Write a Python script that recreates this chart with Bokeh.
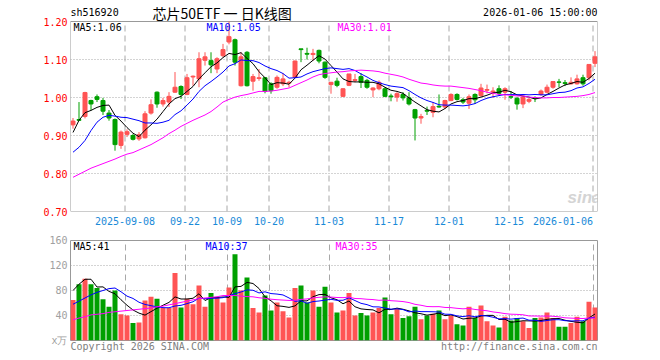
from bokeh.plotting import figure
from bokeh.models import (ColumnDataSource, FixedTicker, Label, Grid, Range1d, PrintfTickFormatter,
                          LinearAxis, CustomJSTickFormatter)
from bokeh.layouts import column
from bokeh.embed import file_html
from bokeh.resources import INLINE

# ---------------- data ----------------
tick_idx = [9, 19, 26, 33, 43, 53, 63, 73, 87]
tick_labels = ["2025-09-08", "09-22", "10-09", "10-20", "11-03", "11-17", "12-01", "12-15", "2026-01-06"]

open_ = [0.928, 0.942, 0.950, 0.992, 1.002, 0.992, 0.959, 0.942, 0.874, 0.903,
         0.900, 0.891, 0.894, 0.959, 1.014, 0.983, 0.988, 1.014, 1.029, 1.008,
         1.054, 1.049, 1.098, 1.097, 1.075, 1.110, 1.146, 1.152, 1.031, 1.119,
         1.043, 1.050, 1.052, 1.036, 1.027, 1.036, 1.038, 1.053, 1.128, 1.116,
         1.113, 1.124, 1.093, 1.034, 1.043, 1.003, 1.032, 1.045, 1.055, 1.045,
         1.020, 1.023, 1.023, 1.004, 1.001, 1.008, 0.999, 0.968, 0.946, 0.966,
         0.961, 0.977, 0.975, 0.992, 1.008, 0.994, 0.985, 1.008, 1.005, 1.019,
         1.014, 1.023, 1.014, 1.002, 0.998, 0.983, 0.990, 1.000, 1.008, 1.014,
         1.027, 1.041, 1.039, 1.036, 1.036, 1.052, 1.052, 1.090]
high = [0.946, 0.988, 1.015, 0.994, 1.008, 0.999, 0.967, 0.945, 0.913, 0.916,
        0.904, 0.909, 0.964, 0.995, 1.016, 0.999, 1.014, 1.067, 1.032, 1.062,
        1.058, 1.119, 1.119, 1.119, 1.106, 1.141, 1.200, 1.155, 1.119, 1.122,
        1.062, 1.075, 1.054, 1.040, 1.058, 1.064, 1.044, 1.097, 1.128, 1.131,
        1.128, 1.126, 1.095, 1.041, 1.052, 1.025, 1.062, 1.062, 1.064, 1.049,
        1.027, 1.045, 1.027, 1.010, 1.014, 1.014, 1.014, 0.970, 0.957, 0.976,
        0.988, 1.008, 0.994, 1.011, 1.011, 0.999, 1.008, 1.011, 1.036, 1.034,
        1.027, 1.032, 1.027, 1.017, 1.001, 1.003, 0.999, 1.003, 1.021, 1.034,
        1.042, 1.049, 1.046, 1.053, 1.060, 1.060, 1.087, 1.122]
low = [0.918, 0.938, 0.945, 0.966, 0.988, 0.954, 0.939, 0.860, 0.865, 0.896,
       0.887, 0.886, 0.892, 0.955, 0.973, 0.976, 0.975, 1.012, 0.996, 1.006,
       1.031, 1.027, 1.084, 1.064, 1.064, 1.106, 1.140, 1.084, 1.029, 1.029,
       1.018, 1.044, 1.011, 1.010, 1.023, 1.030, 1.027, 1.052, 1.093, 1.100,
       1.097, 1.090, 1.049, 1.010, 1.027, 1.001, 1.030, 1.040, 1.025, 1.023,
       1.001, 1.019, 1.001, 0.990, 0.989, 0.992, 0.979, 0.887, 0.931, 0.954,
       0.948, 0.973, 0.970, 0.990, 0.992, 0.983, 0.970, 0.983, 1.002, 1.011,
       0.999, 1.005, 0.994, 0.996, 0.968, 0.972, 0.985, 0.988, 1.005, 1.011,
       1.023, 1.027, 1.030, 1.034, 1.034, 1.031, 1.045, 1.080]
close = [0.938, 0.940, 1.013, 0.983, 0.995, 0.964, 0.946, 0.876, 0.909, 0.910,
         0.890, 0.902, 0.957, 0.981, 0.983, 0.992, 1.003, 1.027, 1.008, 1.052,
         1.056, 1.102, 1.107, 1.086, 1.102, 1.126, 1.160, 1.093, 1.107, 1.031,
         1.055, 1.052, 1.016, 1.018, 1.053, 1.049, 1.040, 1.096, 1.126, 1.114,
         1.116, 1.096, 1.053, 1.040, 1.032, 1.023, 1.062, 1.047, 1.040, 1.027,
         1.025, 1.040, 1.003, 1.002, 1.010, 0.999, 0.983, 0.946, 0.950, 0.964,
         0.976, 0.975, 0.992, 1.008, 0.995, 0.988, 1.002, 0.994, 1.025, 1.021,
         1.017, 1.011, 1.023, 1.001, 0.983, 1.001, 0.995, 0.998, 1.017, 1.027,
         1.042, 1.040, 1.037, 1.040, 1.049, 1.036, 1.087, 1.107]
ma5 = [0.908, 0.940, 0.960, 0.966, 0.974, 0.979, 0.980, 0.953, 0.938, 0.921,
       0.906, 0.897, 0.914, 0.928, 0.943, 0.963, 0.983, 0.997, 1.003, 1.016,
       1.029, 1.049, 1.065, 1.081, 1.091, 1.105, 1.116, 1.113, 1.118, 1.103,
       1.089, 1.068, 1.052, 1.034, 1.039, 1.038, 1.035, 1.051, 1.073, 1.085,
       1.098, 1.110, 1.101, 1.084, 1.067, 1.049, 1.042, 1.041, 1.041, 1.040,
       1.040, 1.036, 1.027, 1.019, 1.016, 1.011, 0.999, 0.988, 0.978, 0.968,
       0.964, 0.962, 0.971, 0.983, 0.989, 0.992, 0.997, 0.997, 1.001, 1.006,
       1.012, 1.014, 1.019, 1.015, 1.007, 1.004, 1.001, 0.996, 0.999, 1.008,
       1.016, 1.025, 1.033, 1.037, 1.042, 1.040, 1.050, 1.064]
ma10 = [0.856, 0.869, 0.887, 0.913, 0.935, 0.948, 0.953, 0.951, 0.948, 0.947,
        0.943, 0.939, 0.933, 0.933, 0.932, 0.935, 0.940, 0.955, 0.965, 0.980,
        0.996, 1.016, 1.031, 1.042, 1.054, 1.067, 1.083, 1.089, 1.099, 1.097,
        1.097, 1.092, 1.083, 1.076, 1.071, 1.063, 1.051, 1.052, 1.054, 1.062,
        1.068, 1.072, 1.076, 1.078, 1.076, 1.074, 1.076, 1.071, 1.062, 1.054,
        1.045, 1.039, 1.034, 1.030, 1.028, 1.026, 1.018, 1.008, 0.999, 0.992,
        0.987, 0.981, 0.980, 0.980, 0.979, 0.978, 0.980, 0.984, 0.992, 0.998,
        1.002, 1.005, 1.008, 1.008, 1.007, 1.008, 1.007, 1.008, 1.007, 1.007,
        1.010, 1.013, 1.014, 1.018, 1.025, 1.028, 1.037, 1.048]
ma30 = [0.790, 0.798, 0.806, 0.814, 0.820, 0.826, 0.832, 0.838, 0.845, 0.851,
        0.855, 0.862, 0.869, 0.876, 0.885, 0.894, 0.905, 0.914, 0.924, 0.932,
        0.940, 0.947, 0.954, 0.963, 0.975, 0.988, 0.995, 1.001, 1.005, 1.008,
        1.012, 1.016, 1.016, 1.017, 1.019, 1.022, 1.025, 1.032, 1.039, 1.046,
        1.054, 1.060, 1.063, 1.065, 1.067, 1.068, 1.070, 1.071, 1.072, 1.071,
        1.070, 1.068, 1.064, 1.061, 1.058, 1.054, 1.048, 1.043, 1.038, 1.036,
        1.033, 1.031, 1.030, 1.030, 1.028, 1.026, 1.024, 1.021, 1.018, 1.014,
        1.011, 1.008, 1.007, 1.006, 1.004, 1.004, 1.001, 1.000, 0.999, 0.999,
        1.000, 1.000, 1.001, 1.002, 1.003, 1.005, 1.008, 1.013]
volume = [65, 90, 99, 90, 84, 66, 54, 80, 42, 40,
          28, 29, 64, 70, 67, 52, 52, 108, 53, 67,
          58, 88, 54, 76, 69, 61, 85, 138, 80, 101,
          52, 45, 72, 48, 61, 47, 37, 84, 88, 61,
          80, 54, 86, 61, 45, 48, 76, 40, 44, 40,
          45, 52, 69, 42, 51, 36, 39, 54, 34, 40,
          43, 48, 34, 40, 26, 24, 54, 36, 56, 31,
          24, 21, 38, 32, 36, 31, 20, 36, 37, 45,
          36, 22, 22, 28, 38, 31, 62, 53]
vma5 = [80, 90, 98, 98, 85.6, 85.8, 78.6, 74.8, 65.2, 56.4,
        48.8, 43.8, 40.6, 46.2, 51.6, 56.4, 61, 69.8, 66.4, 66.4,
        67.6, 74.8, 64, 68.6, 69, 69.6, 69, 85.8, 86.6, 93,
        91.2, 83.2, 70, 63.6, 55.6, 54.6, 53, 55.4, 63.4, 63.4,
        70, 73.4, 73.8, 68.4, 65.2, 58.8, 63.2, 54, 50.6, 49.6,
        49, 44.2, 50, 49.6, 51.8, 50, 47.4, 44.4, 42.8, 40.6,
        42, 43.8, 39.8, 41, 38.2, 34.4, 35.6, 36, 39.2, 40.2,
        40.2, 33.6, 34, 29.2, 30.2, 31.6, 31.4, 31, 32, 33.8,
        34.8, 35.2, 32.4, 30.6, 29.2, 28.2, 36.2, 42.4]
vma10 = [58, 63, 68, 73, 77, 80, 83, 84, 78, 71,
         67.3, 61.2, 57.7, 55.7, 54, 52.6, 52.4, 55.2, 56.3, 59,
         62, 67.9, 66.9, 67.5, 67.7, 68.6, 71.9, 74.9, 77.6, 81,
         80.4, 76.1, 77.9, 75.1, 74.3, 72.9, 68.1, 62.7, 63.5, 59.5,
         62.3, 63.2, 64.6, 65.9, 64.3, 64.4, 68.3, 63.9, 59.5, 57.4,
         53.9, 53.7, 52, 50.1, 50.7, 49.5, 45.8, 47.2, 46.2, 46.2,
         46, 45.6, 42.1, 41.9, 39.4, 38.2, 39.7, 37.9, 40.1, 39.2,
         37.3, 34.6, 35, 34.2, 35.2, 35.9, 32.5, 32.5, 30.6, 32,
         33.2, 33.3, 31.7, 31.3, 31.5, 31.5, 35.7, 37.4]
vma30 = [33, 36, 38, 41, 42, 43, 45, 46, 47, 48,
         49, 50, 51, 52, 54, 55, 57, 59, 61, 63,
         65, 67, 68, 69, 70, 72, 72, 72, 71, 70.3,
         69.9, 68.4, 67.5, 66.1, 65.3, 64.7, 64.1, 64.3, 65.8, 66.5,
         68.2, 69.1, 69.8, 69.5, 68.8, 68.6, 69.4, 67.2, 66.9, 66.0,
         65.5, 64.3, 64.8, 63.7, 63.1, 62.3, 60.7, 57.9, 56.4, 54.4,
         54.1, 54.2, 52.9, 52.6, 51.5, 50.7, 51.3, 49.7, 48.6, 47.6,
         45.7, 44.6, 43.0, 42.1, 41.8, 41.2, 39.3, 39.2, 39.0, 39.1,
         38.8, 37.8, 36.3, 35.8, 35.4, 35.2, 36.0, 35.9]
price_ticks = [0.70, 0.80, 0.90, 1.00, 1.10, 1.20]
vol_ticks = [0, 40, 80, 120, 160]
footer_texts = ["Copyright 2026 SINA.COM", "http://finance.sina.com.cn"]

# ---------------- styling / layout constants ----------------
MONO = "DejaVu Sans Mono"
UP, DOWN = "#ff5454", "#00a000"
GRID = "#a8a8a8"
FRAME = "#999999"
PX = 6.0                      # pixels per trading day
XR = (-2.5 / PX, -2.5 / PX + 527 / PX)
HEAD_PX = 21                  # header strip above the price box
P_LO, P_HI = price_ticks[0], price_ticks[-1]
P_TOP = P_HI + HEAD_PX * (P_HI - P_LO) / 190.0   # frame extends over the header strip

n = len(close)
xs = list(range(n))
colors = [UP if c >= o else DOWN for o, c in zip(open_, close)]
src = ColumnDataSource(dict(
    x=xs, o=open_, h=high, l=low, c=close,
    top=[max(a, b) for a, b in zip(open_, close)],
    bot=[min(a, b) for a, b in zip(open_, close)],
    color=colors, v=volume,
    ma5=ma5, ma10=ma10, ma30=ma30, vma5=vma5, vma10=vma10, vma30=vma30))

grid_x = [t - 2 / PX for t in tick_idx]
date_label_x = grid_x[:-1] + [grid_x[-1] - 30 / PX]


def style_yaxis(ax):
    ax.axis_line_color = None
    ax.major_tick_line_color = None
    ax.minor_tick_line_color = None
    ax.major_tick_out = 0
    ax.major_tick_in = 0
    ax.major_label_standoff = 3
    ax.major_label_text_font = MONO
    ax.major_label_text_font_size = "10px"


def bottom_axis(p, ticks, labels, color, standoff):
    ax = LinearAxis(ticker=FixedTicker(ticks=ticks),
                    formatter=CustomJSTickFormatter(args=dict(labels=labels), code="return labels[index];"))
    ax.axis_line_color = None
    ax.major_tick_line_color = None
    ax.minor_tick_line_color = None
    ax.major_tick_out = 0
    ax.major_tick_in = 0
    ax.major_label_standoff = standoff
    ax.major_label_text_font = MONO
    ax.major_label_text_font_size = "10px"
    ax.major_label_text_color = color
    p.add_layout(ax, "below")


def lab(p, x, y, text, color, size="10px", font=MONO, align="left", style="normal", level=None):
    L = Label(x=x, y=y, x_units="screen", y_units="screen", text=text, text_color=color,
              text_font=font, text_font_size=size, text_align=align, text_baseline="middle",
              text_font_style=style)
    if level:
        L.level = level
    p.add_layout(L)


# ---------------- price panel (frame also covers the header strip) ----------------
p1 = figure(width=660, height=232, x_range=Range1d(*XR), y_range=Range1d(P_LO, P_TOP),
            output_backend="svg", toolbar_location=None, x_axis_type=None, title=None,
            min_border_left=70, min_border_right=63, min_border_top=0, min_border_bottom=21)
p1.outline_line_color = None
p1.background_fill_color = "white"
p1.border_fill_color = "white"
style_yaxis(p1.yaxis[0])
p1.yaxis[0].ticker = FixedTicker(ticks=price_ticks)
p1.yaxis[0].formatter = PrintfTickFormatter(format="%.2f")
p1.yaxis[0].major_label_text_color = "#ff0000"
p1.ygrid.grid_line_color = GRID
p1.ygrid.grid_line_dash = "1 2"
bottom_axis(p1, date_label_x, tick_labels, "#1a8ad8", 5)

p1.segment(x0=grid_x, y0=[P_LO] * len(grid_x), x1=grid_x, y1=[P_HI] * len(grid_x),
           line_color=GRID, line_dash="6 4", line_width=1, level="underlay")
p1.quad(left=[XR[0]], right=[XR[1]], bottom=[P_LO], top=[P_HI], fill_color=None,
        line_color=FRAME, line_width=1)

p1.segment(x0="x", y0="h", x1="x", y1="l", color="color", line_width=1, source=src)
p1.vbar(x="x", width=4 / PX, top="top", bottom="bot", fill_color="color", line_color="color",
        line_width=1, source=src)
p1.line("x", "ma5", color="black", line_width=1, source=src)
p1.line("x", "ma10", color="#0000ff", line_width=1, source=src)
p1.line("x", "ma30", color="#ff00ff", line_width=1, source=src)

lab(p1, 497, 14, "sina", "#d4d4d4", size="17px", font="Liberation Sans", style="bold italic",
    level="underlay")
lab(p1, 3, 184, "MA5:1.06", "black")
lab(p1, 136, 184, "MA10:1.05", "#0000ff")
lab(p1, 267, 184, "MA30:1.01", "#ff00ff")
# header strip
lab(p1, 0, 199, "sh516920", "black")
lab(p1, 82, 199, "芯片50ETF 一 日K线图", "black", size="14px", font="Noto Sans CJK SC")
lab(p1, 527, 199, "2026-01-06 15:00:00", "black", align="right")

# ---------------- volume panel ----------------
p2 = figure(width=660, height=128, x_range=Range1d(*XR), y_range=Range1d(vol_ticks[0], vol_ticks[-1]),
            output_backend="svg", toolbar_location=None, x_axis_type=None, title=None,
            min_border_left=70, min_border_right=63, min_border_top=8, min_border_bottom=20)
p2.outline_line_color = FRAME
p2.outline_line_width = 1
p2.background_fill_color = "white"
p2.border_fill_color = "white"
p2.add_layout(Grid(dimension=0, ticker=FixedTicker(ticks=grid_x), grid_line_color=GRID,
                   grid_line_dash="6 4", grid_line_width=1))
p2.ygrid.grid_line_color = GRID
p2.ygrid.grid_line_dash = "1 2"
style_yaxis(p2.yaxis[0])
p2.yaxis[0].ticker = FixedTicker(ticks=vol_ticks)
p2.yaxis[0].major_label_overrides = {0: "x万"}
p2.yaxis[0].major_label_text_color = "#a0a0a0"
footer_x = [XR[0] + (len(footer_texts[0]) * 6.02 / 2) / PX,
            XR[1] - (len(footer_texts[1]) * 6.02 / 2) / PX]
bottom_axis(p2, footer_x, footer_texts, "#808080", 0)

p2.vbar(x="x", width=5 / PX, top="v", bottom=0, fill_color="color", line_color=None, source=src)
p2.line("x", "vma5", color="black", line_width=1, source=src)
p2.line("x", "vma10", color="#0000ff", line_width=1, source=src)
p2.line("x", "vma30", color="#ff00ff", line_width=1, source=src)

lab(p2, 3, 94, "MA5:41", "black")
lab(p2, 135, 94, "MA10:37", "#0000ff")
lab(p2, 265, 94, "MA30:35", "#ff00ff")

layout = column(p1, p2, spacing=0)
open("out.html", "w").write(file_html(layout, INLINE))
